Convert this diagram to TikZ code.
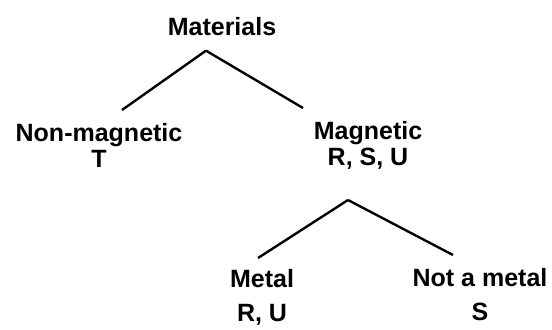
\documentclass[tikz,border=0pt]{standalone}
\usepackage{fontspec}
\setmainfont{Liberation Sans}
\usepackage{tikz}
\usetikzlibrary{calc}

\begin{document}
\begin{tikzpicture}[x=0.5pt,y=-0.5pt]
\tikzset{item/.style={inner sep=0pt,align=center,font=\bfseries\fontsize{12.5}{#1}\selectfont},item/.default=13}
\tikzset{branch/.style={line width=1.2pt,black}}
\useasboundingbox (0,0) rectangle (552,329);
\node (mat) at (222,35) [item,anchor=base] {Materials};
\node (non) at (99,123) [item,anchor=north] {Non-magnetic\\T};
\node (mag) at (368,121) [item,anchor=north] {Magnetic\\R, S, U};
\node (met) at (262,269) [item=17,anchor=north] {Metal\\R, U};
\node (nmet) at (480,268) [item=17,anchor=north] {Not a metal\\S};

\path
([shift={(-16,15)}]mat.south) edge [branch] ([shift={(23,-13)}]non.north)
([shift={(-16,15)}]mat.south) edge [branch] ([shift={(-65,-13)}]mag.north)
([shift={(-20,79)}]mag.north) edge [branch] ([shift={(-4,-11)}]met.north)
([shift={(-20,79)}]mag.north) edge [branch] ([shift={(-27,-13)}]nmet.north);
\end{tikzpicture}
\end{document}
